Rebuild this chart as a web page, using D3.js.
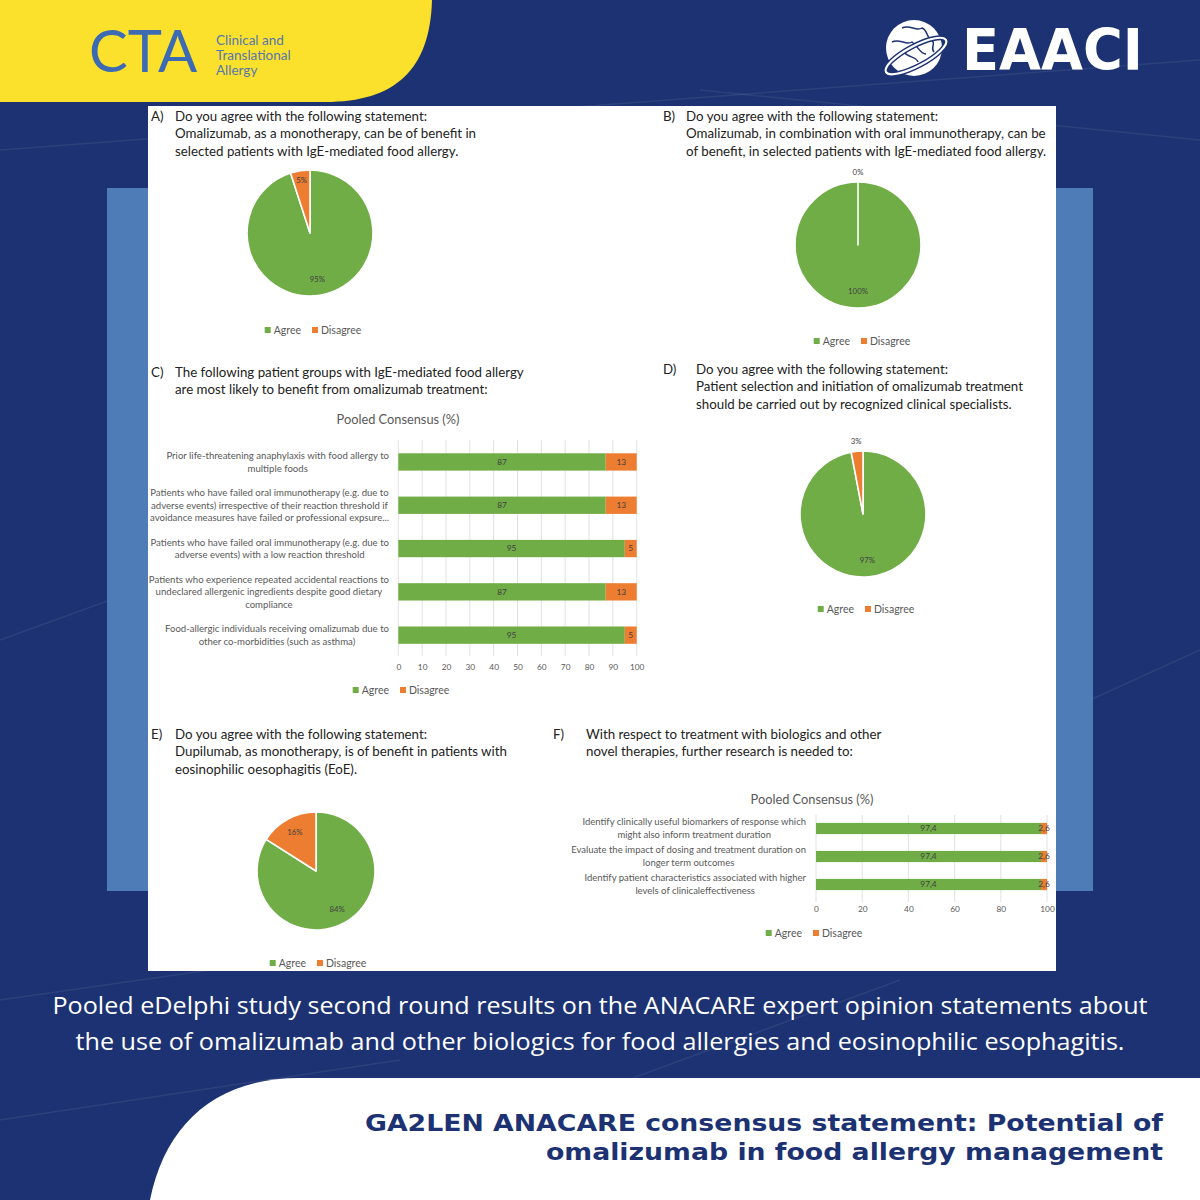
<!DOCTYPE html>
<html><head><meta charset="utf-8">
<script src="https://cdn.jsdelivr.net/npm/d3@7"></script>
<style>body{margin:0;background:#1c3272}svg{display:block}</style>
</head><body>
<svg id="c" width="1200" height="1200"></svg>
<script>
// ---------- data ----------
const seriesNames = ["Agree", "Disagree"];
const seriesColors = ["#70ad47", "#ed7d31"];

const pieA = [95, 5];
const pieB = [100, 0];
const pieD = [97, 3];
const pieE = [84, 16];

const catsC = [
  "Prior life-threatening anaphylaxis with food allergy to\nmultiple foods",
  "Patients who have failed oral immunotherapy (e.g. due to\nadverse events) irrespective of their reaction threshold if\navoidance measures have failed or professional expsure...",
  "Patients who have failed oral immunotherapy (e.g. due to\nadverse events) with a low reaction threshold",
  "Patients who experience repeated accidental reactions to\nundeclared allergenic ingredients despite good dietary\ncompliance",
  "Food-allergic individuals receiving omalizumab due to\nother co-morbidities (such as asthma)"
];
const agreeC = [87, 87, 95, 87, 95];
const disagreeC = [13, 13, 5, 13, 5];
const ticksC = [0, 10, 20, 30, 40, 50, 60, 70, 80, 90, 100];

const catsF = [
  "Identify clinically useful biomarkers of response which\nmight also inform treatment duration",
  "Evaluate the impact of dosing and treatment duration on\nlonger term outcomes",
  "Identify patient characteristics associated with higher\nlevels of clinicaleffectiveness"
];
const agreeF = [97.4, 97.4, 97.4];
const disagreeF = [2.6, 2.6, 2.6];
const ticksF = [0, 20, 40, 60, 80, 100];

const titleA = ["Do you agree with the following statement:", "Omalizumab, as a monotherapy, can be of benefit in", "selected patients with IgE-mediated food allergy."];
const titleB = ["Do you agree with the following statement:", "Omalizumab, in combination with oral immunotherapy, can be", "of benefit, in selected patients with IgE-mediated food allergy."];
const titleC = ["The following patient groups with IgE-mediated food allergy", "are most likely to benefit from omalizumab treatment:"];
const titleD = ["Do you agree with the following statement:", "Patient selection and initiation of omalizumab treatment", "should be carried out by recognized clinical specialists."];
const titleE = ["Do you agree with the following statement:", "Dupilumab, as monotherapy, is of benefit in patients with", "eosinophilic oesophagitis (EoE)."];
const titleF = ["With respect to treatment with biologics and other", "novel therapies, further research is needed to:"];
const chartTitle = "Pooled Consensus (%)";

const captionLines = ["Pooled eDelphi study second round results on the ANACARE expert opinion statements about",
  "the use of omalizumab and other biologics for food allergies and eosinophilic esophagitis."];
const headlineLines = ["GA2LEN ANACARE consensus statement: Potential of", "omalizumab in food allergy management"];

// ---------- drawing ----------
const NAVY = "#1c3272";
const FONT = "Lato, 'Open Sans', sans-serif";
const svg = d3.select("#c");

svg.append("rect").attr("width", 1200).attr("height", 1200).attr("fill", NAVY);
// faint streaks
const streaks = [[0,150,1200,60],[0,1000,700,900],[300,1200,900,980],[700,90,1200,140],[0,640,110,600],[1090,700,1200,650],[0,1120,400,1060]];
svg.selectAll("line.streak").data(streaks).join("line")
  .attr("x1", d => d[0]).attr("y1", d => d[1]).attr("x2", d => d[2]).attr("y2", d => d[3])
  .attr("stroke", "#ffffff").attr("stroke-opacity", 0.07).attr("stroke-width", 1.5);

// yellow header shape
svg.append("path").attr("d", "M0,0 H432 C430,70 395,102 325,102 H0 Z").attr("fill", "#fbe12c");
// light blue box
svg.append("rect").attr("x", 107).attr("y", 188).attr("width", 986).attr("height", 703).attr("fill", "#4e7cb6");
// white panel
svg.append("rect").attr("x", 148).attr("y", 106).attr("width", 908).attr("height", 865).attr("fill", "#ffffff");
// bottom white shape
svg.append("path").attr("d", "M1200,1078 H300 C215,1078 165,1125 150,1200 H1200 Z").attr("fill", "#ffffff");

// CTA logo
svg.append("text").attr("x", 89).attr("y", 72).text("CTA")
  .style("font-family", FONT).style("font-weight", 400).style("font-size", "58px").attr("fill", "#3d6bb3");
["Clinical and", "Translational", "Allergy"].forEach((t, i) => {
  svg.append("text").attr("x", 216).attr("y", 45 + i * 15).text(t)
    .style("font-family", FONT).style("font-size", "13.5px").attr("fill", "#5677ad");
});

// EAACI logo
const globe = svg.append("g").attr("transform", "translate(914,48)");
globe.append("circle").attr("r", 28).attr("fill", "#ffffff");
globe.append("path").attr("d", "M-12,-20 C-4,-24 2,-16 8,-20 C14,-18 12,-10 18,-8 C22,-4 16,0 20,4 M-22,-6 C-14,-10 -8,-2 -2,-6 C4,-2 6,6 12,6 M-10,4 C-6,10 2,8 4,14")
  .attr("fill", "none").attr("stroke", NAVY).attr("stroke-width", 1.5);
globe.append("ellipse").attr("rx", 34).attr("ry", 10).attr("transform", "rotate(-28) translate(-2,8)")
  .attr("fill", "none").attr("stroke", NAVY).attr("stroke-width", 5);
globe.append("ellipse").attr("rx", 34).attr("ry", 10).attr("transform", "rotate(-28) translate(-2,8)")
  .attr("fill", "none").attr("stroke", "#ffffff").attr("stroke-width", 2.2);
svg.append("text").attr("x", 962).attr("y", 70).text("EAACI")
  .attr("textLength", 181).attr("lengthAdjust", "spacingAndGlyphs")
  .style("font-family", "'DejaVu Sans', sans-serif").style("font-weight", 700).style("font-size", "57px").attr("fill", "#ffffff");

// helpers
function panelTitle(letter, lx, tx, lines, y0, lh) {
  const g = svg.append("g").style("font-family", FONT).style("font-size", "13.3px").attr("fill", "#222222");
  g.append("text").attr("x", lx).attr("y", y0).text(letter);
  lines.forEach((t, i) => g.append("text").attr("x", tx).attr("y", y0 + i * lh).text(t));
}

function legend(cx, cy, fs) {
  const g = svg.append("g").style("font-family", FONT).style("font-size", fs + "px").attr("fill", "#595959");
  let x = 0;
  seriesNames.forEach((n, i) => {
    g.append("rect").attr("x", x).attr("y", -3).attr("width", 6).attr("height", 6).attr("fill", seriesColors[i]);
    const t = g.append("text").attr("x", x + 9).attr("dy", "0.35em").text(n);
    x += 9 + t.node().getComputedTextLength() + 11;
  });
  g.attr("transform", `translate(${cx - (x - 11) / 2},${cy})`);
}

function drawPie(data, cx, cy, r, legendY, legendX) {
  const g = svg.append("g").attr("transform", `translate(${cx},${cy})`);
  const arcs = d3.pie().sort(null).value(d => d)(data);
  const arc = d3.arc().innerRadius(0).outerRadius(r);
  g.selectAll("path").data(arcs).join("path")
    .attr("d", arc).attr("fill", (d, i) => seriesColors[i])
    .attr("stroke", "#ffffff").attr("stroke-width", 1.6).attr("stroke-linejoin", "round");
  g.selectAll("text").data(arcs).join("text")
    .attr("transform", d => {
      const lr = d.value < 4 ? r + 10 : (d.value < 10 ? 0.84 * r : 0.74 * r);
      return `translate(${d3.arc().innerRadius(lr).outerRadius(lr).centroid(d)})`;
    })
    .attr("text-anchor", "middle").attr("dy", "0.35em")
    .style("font-family", FONT).style("font-size", "7.8px").attr("fill", "#404040")
    .text(d => d.value + "%");
  legend(legendX, legendY, 10.5);
}

function drawBars(o) {
  const g = svg.append("g").style("font-family", FONT);
  const x = d3.scaleLinear().domain([0, 100]).range([o.x0, o.x1]);
  const y = d3.scaleBand().domain(o.cats).range([o.y0, o.y1]).paddingInner(0.6).paddingOuter(0.3);
  // title
  g.append("text").attr("x", o.titleX).attr("y", o.titleY).attr("dy", "0.35em").attr("text-anchor", "middle")
    .style("font-size", "12.8px").attr("fill", "#595959").text(chartTitle);
  // grid
  g.selectAll("line.grid").data(o.ticks).join("line")
    .attr("x1", d => x(d)).attr("x2", d => x(d)).attr("y1", o.gy0).attr("y2", o.gy1)
    .attr("stroke", "#d9d9d9").attr("stroke-width", 0.8);
  // axis
  const ax = g.append("g").attr("transform", `translate(0,${o.tickY - 3.5})`)
    .call(d3.axisBottom(x).tickValues(o.ticks).tickSize(0).tickPadding(0).tickFormat(d3.format("d")));
  ax.select(".domain").remove();
  ax.selectAll("text").style("font-family", FONT).style("font-size", "8.3px").attr("fill", "#595959");
  // bars
  const rows = o.cats.map((c, i) => ({ c, a: o.agree[i], d: o.disagree[i] }));
  g.selectAll("rect.ag").data(rows).join("rect")
    .attr("x", x(0)).attr("y", d => y(d.c)).attr("width", d => x(d.a) - x(0)).attr("height", y.bandwidth())
    .attr("fill", seriesColors[0]);
  g.selectAll("rect.dg").data(rows).join("rect").attr("class", "dg")
    .attr("x", d => x(d.a)).attr("y", d => y(d.c)).attr("width", d => x(d.a + d.d) - x(d.a)).attr("height", y.bandwidth())
    .attr("fill", seriesColors[1]);
  const vlab = g.append("g").style("font-size", "8.3px").attr("fill", "#404040").attr("text-anchor", "middle");
  rows.forEach(r => {
    const cy = y(r.c) + y.bandwidth() / 2;
    vlab.append("text").attr("x", x(r.a / 2)).attr("y", cy).attr("dy", "0.35em").text(o.fmt(r.a));
    vlab.append("text").attr("x", x(r.a + r.d / 2)).attr("y", cy).attr("dy", "0.35em").text(o.fmt(r.d));
  });
  // category labels
  const cl = g.append("g").style("font-size", o.catFs + "px").attr("fill", "#595959");
  o.cats.forEach(c => {
    const lines = c.split("\n");
    const cy = y(c) + y.bandwidth() / 2;
    const t = cl.append("text").attr("text-anchor", "middle");
    const spans = lines.map((ln, i) => t.append("tspan").attr("y", cy + (i - (lines.length - 1) / 2) * o.lh).attr("dy", "0.35em").text(ln));
    const w = d3.max(spans, s => s.node().getComputedTextLength());
    spans.forEach(s => s.attr("x", o.labelRight - w / 2));
  });
  legend(o.legendX, o.legendY, 10.5);
}

// Panel A
panelTitle("A)", 151, 175, titleA, 121, 17.3);
drawPie(pieA, 310, 233, 63, 330, 313);
// Panel B
panelTitle("B)", 663, 686, titleB, 121, 17.3);
drawPie(pieB, 858, 245, 63, 341, 862);
// Panel C
panelTitle("C)", 151, 175, titleC, 377, 17.3);
drawBars({ cats: catsC, agree: agreeC, disagree: disagreeC, ticks: ticksC,
  x0: 398.3, x1: 636.7, y0: 440.3, y1: 656.8, gy0: 440, gy1: 656,
  titleX: 398, titleY: 420, tickY: 668, labelRight: 389, catFs: 9.6, lh: 12.5,
  legendX: 401, legendY: 690, fmt: d3.format("d") });
// Panel D
panelTitle("D)", 663, 696, titleD, 374, 17.3);
drawPie(pieD, 863, 514, 63, 609, 866);
// Panel E
panelTitle("E)", 151, 175, titleE, 739, 17.3);
drawPie(pieE, 316, 871, 59, 963, 318);
// Panel F
const commaFmt = d3.formatLocale({ decimal: ",", thousands: ".", grouping: [3], currency: ["", ""] }).format(".1f");
panelTitle("F)", 553, 586, titleF, 739, 17.3);
drawBars({ cats: catsF, agree: agreeF, disagree: disagreeF, ticks: ticksF,
  x0: 816, x1: 1047, y0: 814.5, y1: 898.5, gy0: 815, gy1: 902,
  titleX: 812, titleY: 800, tickY: 910, labelRight: 806, catFs: 9.5, lh: 12.8,
  legendX: 814, legendY: 933, fmt: commaFmt });

// caption
const capW = [1095, 1049];
captionLines.forEach((t, i) => {
  svg.append("text").attr("x", 600 - capW[i] / 2).attr("y", 1014 + i * 36).text(t)
    .attr("textLength", capW[i]).attr("lengthAdjust", "spacingAndGlyphs")
    .style("font-family", "'Open Sans', sans-serif").style("font-size", "24px").attr("fill", "#ffffff");
});
// headline
const headW = [798, 617];
headlineLines.forEach((t, i) => {
  svg.append("text").attr("x", 1163 - headW[i]).attr("y", 1131 + i * 29).text(t)
    .attr("textLength", headW[i]).attr("lengthAdjust", "spacingAndGlyphs")
    .style("font-family", "'DejaVu Sans', sans-serif").style("font-weight", 700).style("font-size", "23.5px").attr("fill", "#1c3272");
});
</script>
</body></html>
